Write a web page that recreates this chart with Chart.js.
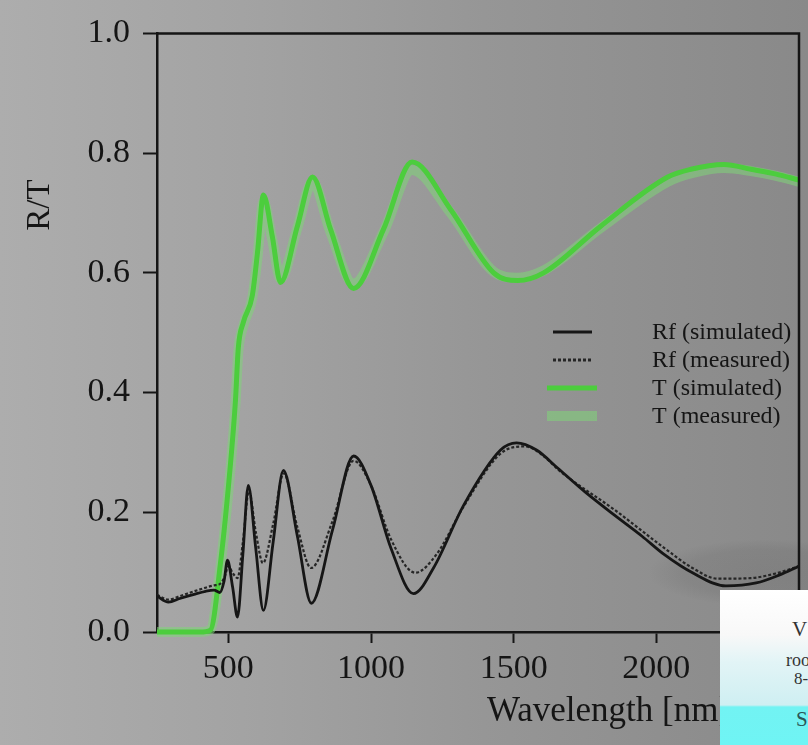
<!DOCTYPE html>
<html>
<head>
<meta charset="utf-8">
<script src="https://cdn.jsdelivr.net/npm/chart.js@4"></script>
<style>
  html, body { margin: 0; padding: 0; }
  body {
    width: 808px; height: 745px; overflow: hidden; position: relative;
    background: linear-gradient(to right, #adadad 0%, #a3a3a3 30%, #969696 60%, #898989 100%);
  }
  #shade {
    position: absolute; left: 650px; top: 540px; width: 230px; height: 66px;
    background: radial-gradient(ellipse at center, rgba(40,40,40,0.10) 0%, rgba(40,40,40,0.08) 50%, rgba(40,40,40,0) 72%);
  }
  #c { position: absolute; left: 0; top: 0; }
  #card {
    position: absolute; left: 720px; top: 590px; width: 88px; height: 155px; overflow: hidden;
    background: linear-gradient(to bottom, #ffffff 0px, #f8f8f8 45px, #e2f4f6 72px, #cfeff2 115px, #72f3f3 117px, #6ff4f4 100%);
    font-family: "Liberation Serif", serif; color: #333333;
  }
  #card span { position: absolute; white-space: nowrap; }
</style>
</head>
<body>
<div id="shade"></div>
<canvas id="c" width="808" height="745"></canvas>
<div id="card">
  <span style="left:72px;top:27px;font-size:21px;">V</span>
  <span style="left:66px;top:60px;font-size:18px;">roo</span>
  <span style="left:74px;top:79px;font-size:17px;">8-</span>
  <span style="left:76px;top:117px;font-size:21px;color:#2a5656;">S</span>
</div>
<script>
// Axis ticks
const wavelengthTicks = [500, 1000, 1500, 2000];
const rtTicks = [0, 0.2, 0.4, 0.6, 0.8, 1.0];

// Series labels
const seriesLabels = ['Rf (simulated)', 'Rf (measured)', 'T (simulated)', 'T (measured)'];

// Front reflectance, simulated
const rfSimWl  = [250, 290, 330, 380, 420, 450, 470, 485, 497, 515, 532, 551, 570, 596, 623, 657, 693, 742, 791, 865, 939, 1000, 1070, 1149, 1219, 1325, 1454, 1510, 1580, 1654, 1750, 1851, 1950, 2026, 2130, 2244, 2350, 2430, 2500];
const rfSimVal = [0.060, 0.050, 0.056, 0.063, 0.068, 0.070, 0.066, 0.085, 0.120, 0.075, 0.025, 0.130, 0.245, 0.140, 0.036, 0.150, 0.270, 0.160, 0.048, 0.170, 0.294, 0.245, 0.140, 0.064, 0.107, 0.212, 0.304, 0.316, 0.304, 0.274, 0.234, 0.196, 0.160, 0.130, 0.098, 0.077, 0.082, 0.095, 0.110];

// Front reflectance, measured
const rfMeasWl  = [250, 290, 330, 380, 420, 450, 470, 487, 500, 516, 532, 551, 572, 597, 621, 657, 694, 742, 790, 865, 939, 1000, 1070, 1155, 1230, 1325, 1454, 1540, 1610, 1654, 1700, 1851, 2026, 2130, 2215, 2330, 2420, 2500];
const rfMeasVal = [0.062, 0.054, 0.060, 0.068, 0.074, 0.078, 0.080, 0.092, 0.110, 0.098, 0.090, 0.150, 0.235, 0.165, 0.115, 0.180, 0.265, 0.175, 0.107, 0.185, 0.286, 0.245, 0.155, 0.099, 0.130, 0.210, 0.298, 0.310, 0.292, 0.272, 0.255, 0.205, 0.141, 0.106, 0.089, 0.090, 0.098, 0.110];

// Transmittance, simulated
const tSimWl  = [250, 300, 350, 400, 437, 472, 507, 525, 535, 553, 584, 602, 623, 654, 683, 742, 795, 858, 939, 1044, 1144, 1279, 1430, 1514, 1605, 1805, 2040, 2121, 2237, 2332, 2420, 2500];
const tSimVal = [0, 0, 0, 0, 0.003, 0.113, 0.278, 0.387, 0.475, 0.518, 0.562, 0.633, 0.730, 0.661, 0.584, 0.678, 0.760, 0.673, 0.574, 0.673, 0.785, 0.706, 0.600, 0.587, 0.600, 0.678, 0.760, 0.773, 0.781, 0.773, 0.765, 0.755];

// Transmittance, measured
const tMeasWl  = [250, 300, 350, 400, 437, 472, 507, 525, 535, 553, 584, 602, 623, 654, 683, 742, 795, 858, 939, 1044, 1144, 1279, 1430, 1514, 1605, 1805, 2040, 2121, 2237, 2332, 2420, 2500];
const tMeasVal = [0, 0, 0, 0, 0.004, 0.108, 0.270, 0.380, 0.468, 0.512, 0.558, 0.625, 0.718, 0.655, 0.590, 0.675, 0.752, 0.668, 0.582, 0.668, 0.772, 0.700, 0.602, 0.592, 0.604, 0.675, 0.752, 0.766, 0.775, 0.770, 0.762, 0.752];

const SERIF = '"Liberation Serif", "Times New Roman", serif';
const INK = '#151515';

function toPoints(wl, val) {
  return wl.map((w, i) => ({ x: w, y: val[i] }));
}

// Top/right frame, axis titles and the in-plot legend
const decorations = {
  id: 'decorations',
  afterDraw(chart) {
    const ctx = chart.ctx;
    const a = chart.chartArea;
    ctx.save();
    ctx.strokeStyle = INK;
    ctx.lineWidth = 2.5;
    ctx.beginPath();
    ctx.moveTo(a.left, a.top);
    ctx.lineTo(a.right, a.top);
    ctx.lineTo(a.right, a.bottom);
    ctx.stroke();

    // y-axis title
    ctx.fillStyle = INK;
    ctx.font = '33px ' + SERIF;
    ctx.textAlign = 'center';
    ctx.textBaseline = 'middle';
    ctx.save();
    ctx.translate(40, 205);
    ctx.rotate(-Math.PI / 2);
    ctx.fillText('R/T', 0, 0);
    ctx.restore();

    // x-axis title
    ctx.font = '35px ' + SERIF;
    ctx.textAlign = 'left';
    ctx.fillText('Wavelength [nm]', 487, 712);

    // legend
    const ds = chart.data.datasets;
    const rowY = [332, 360, 388, 416];
    ctx.font = '24px ' + SERIF;
    ds.forEach((d, i) => {
      const y = rowY[i];
      ctx.save();
      ctx.strokeStyle = d.borderColor;
      ctx.lineWidth = i < 2 ? 3 : d.borderWidth;
      ctx.setLineDash(d.borderDash || []);
      ctx.beginPath();
      if (i < 2) { ctx.moveTo(553, y); ctx.lineTo(592, y); }
      else { ctx.moveTo(547, y); ctx.lineTo(597, y); }
      ctx.stroke();
      ctx.restore();
      ctx.fillStyle = INK;
      ctx.textBaseline = 'middle';
      ctx.fillText(d.label, 652, y + 1);
    });
    ctx.restore();
  }
};

new Chart(document.getElementById('c'), {
  type: 'line',
  data: {
    datasets: [
      {
        label: seriesLabels[0],
        data: toPoints(rfSimWl, rfSimVal),
        borderColor: '#161616', borderWidth: 2.8,
        pointRadius: 0, cubicInterpolationMode: 'monotone', order: 0
      },
      {
        label: seriesLabels[1],
        data: toPoints(rfMeasWl, rfMeasVal),
        borderColor: '#262626', borderWidth: 2.2, borderDash: [3, 2],
        pointRadius: 0, cubicInterpolationMode: 'monotone', order: 1
      },
      {
        label: seriesLabels[2],
        data: toPoints(tSimWl, tSimVal),
        borderColor: '#4ccd3d', borderWidth: 5,
        pointRadius: 0, cubicInterpolationMode: 'monotone', order: 2,
        clip: 6
      },
      {
        label: seriesLabels[3],
        data: toPoints(tMeasWl, tMeasVal),
        borderColor: 'rgba(128, 214, 120, 0.55)', borderWidth: 10,
        pointRadius: 0, cubicInterpolationMode: 'monotone', order: 3,
        clip: 6
      }
    ]
  },
  options: {
    responsive: false,
    animation: false,
    devicePixelRatio: 1,
    layout: { padding: { left: 0, top: 24, right: 9, bottom: 0 } },
    plugins: { legend: { display: false }, tooltip: { enabled: false } },
    scales: {
      x: {
        type: 'linear', min: 250, max: 2500,
        afterFit(s) { s.height = 113; },
        afterBuildTicks(s) { s.ticks = wavelengthTicks.map(v => ({ value: v })); },
        grid: { drawOnChartArea: false, drawTicks: true, tickLength: 11, tickWidth: 2, tickColor: INK },
        border: { display: true, color: INK, width: 2.5 },
        ticks: { color: INK, font: { family: SERIF, size: 34 }, padding: 6, maxRotation: 0, autoSkip: false, callback: v => String(v) }
      },
      y: {
        min: 0, max: 1,
        afterFit(s) { s.width = 157; },
        afterBuildTicks(s) { s.ticks = rtTicks.map(v => ({ value: v })); },
        grid: { drawOnChartArea: false, drawTicks: true, tickLength: 14, tickWidth: 2, tickColor: INK },
        border: { display: true, color: INK, width: 2.5 },
        ticks: { color: INK, font: { family: SERIF, size: 34 }, padding: 13, callback: v => v.toFixed(1) }
      }
    }
  },
  plugins: [decorations]
});
</script>
</body>
</html>
